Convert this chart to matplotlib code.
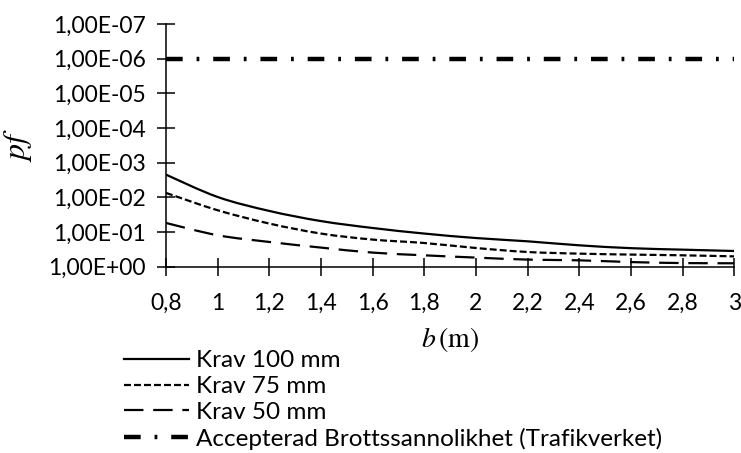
import math
import matplotlib
matplotlib.use("Agg")
import matplotlib.pyplot as plt
from matplotlib.ticker import FixedLocator, FuncFormatter
from matplotlib.path import Path
from matplotlib.patches import PathPatch
from matplotlib.lines import Line2D

plt.rcParams['font.family'] = ['Lato', 'DejaVu Sans']
plt.rcParams['mathtext.fontset'] = 'stix'
plt.rcParams['lines.scale_dashes'] = False

b_values = [0.8, 1.0, 1.2, 1.4, 1.6, 1.8, 2.0, 2.2, 2.4, 2.6, 2.8, 3.0]
x_tick_labels = ["0,8", "1", "1,2", "1,4", "1,6", "1,8", "2", "2,2", "2,4", "2,6", "2,8", "3"]

pf_100 = [2.2e-3, 9.7e-3, 0.0245, 0.048, 0.076, 0.110, 0.148, 0.184, 0.24, 0.29, 0.32, 0.35]
pf_75 = [7.4e-3, 0.0234, 0.0566, 0.110, 0.164, 0.206, 0.287, 0.374, 0.417, 0.444, 0.466, 0.50]
pf_50 = [0.0544, 0.123, 0.192, 0.279, 0.389, 0.466, 0.542, 0.62, 0.65, 0.73, 0.78, 0.79]
pf_accepted = [1e-6] * len(b_values)

labels = ["Krav 100 mm", "Krav 75 mm", "Krav 50 mm",
          "Accepterad Brottssannolikhet (Trafikverket)"]


def smooth_path(xs, ys):
    """Cubic Bezier path through the points (Catmull-Rom tangents in log-y space)."""
    ly = [math.log10(v) for v in ys]
    n = len(xs)
    verts = [(xs[0], ys[0])]
    codes = [Path.MOVETO]
    for i in range(n - 1):
        x0, y0 = xs[max(i - 1, 0)], ly[max(i - 1, 0)]
        x1, y1 = xs[i], ly[i]
        x2, y2 = xs[i + 1], ly[i + 1]
        x3, y3 = xs[min(i + 2, n - 1)], ly[min(i + 2, n - 1)]
        c1 = (x1 + (x2 - x0) / 6.0, y1 + (y2 - y0) / 6.0)
        c2 = (x2 - (x3 - x1) / 6.0, y2 - (y3 - y1) / 6.0)
        verts += [(c1[0], 10 ** c1[1]), (c2[0], 10 ** c2[1]), (x2, ys[i + 1])]
        codes += [Path.CURVE4] * 3
    return Path(verts, codes)


fig = plt.figure(figsize=(7.41, 4.53), dpi=100)
ax = fig.add_axes([0.224, 0.411, 0.767, 0.536])

ax.set_yscale('log')
ax.set_ylim(1, 1e-7)
ax.set_xlim(0.8, 3.0)

styles = [
    dict(lw=1.6, linestyle='-'),
    dict(lw=1.6, linestyle=(0, (5, 2.2))),
    dict(lw=1.6, linestyle=(0, (14, 7))),
]
handles = []
for series, st in zip([pf_100, pf_75, pf_50], styles):
    patch = PathPatch(smooth_path(b_values, series), fill=False,
                      edgecolor='black', **st)
    ax.add_patch(patch)
    handles.append(Line2D([], [], color='black', **st))

l4, = ax.plot(b_values, pf_accepted, color='black', lw=3.2,
              linestyle=(0, (12, 10, 2, 10)))
handles.append(l4)

ax.yaxis.set_major_locator(FixedLocator([10.0 ** -k for k in range(0, 8)]))
ax.yaxis.set_minor_locator(FixedLocator([]))


def sci_comma(v, pos):
    exp = int(round(math.log10(v)))
    sign = '+' if exp >= 0 else '-'
    return f"1,00E{sign}{abs(exp):02d}"


ax.yaxis.set_major_formatter(FuncFormatter(sci_comma))
ax.set_xticks(b_values)
ax.set_xticklabels(x_tick_labels)

for s in ['top', 'right']:
    ax.spines[s].set_visible(False)
for s in ['left', 'bottom']:
    ax.spines[s].set_linewidth(1.1)
ax.tick_params(axis='both', direction='inout', length=13, width=1.1,
               labelsize=16.5, colors='black')
ax.tick_params(axis='y', pad=8)
ax.tick_params(axis='x', pad=12)

ax.set_ylabel(r"$pf$", fontsize=23, labelpad=10)
ax.set_xlabel(r"$b\,(\mathrm{m})$", fontsize=20, labelpad=8)

fig.legend(handles, labels, loc='upper left',
           bbox_to_anchor=(0.168, 0.227), frameon=False, fontsize=17.5,
           handlelength=2.65, handletextpad=0.28, labelspacing=0.2,
           borderpad=0, borderaxespad=0)

fig.savefig("out.png", dpi=100, facecolor='white')
